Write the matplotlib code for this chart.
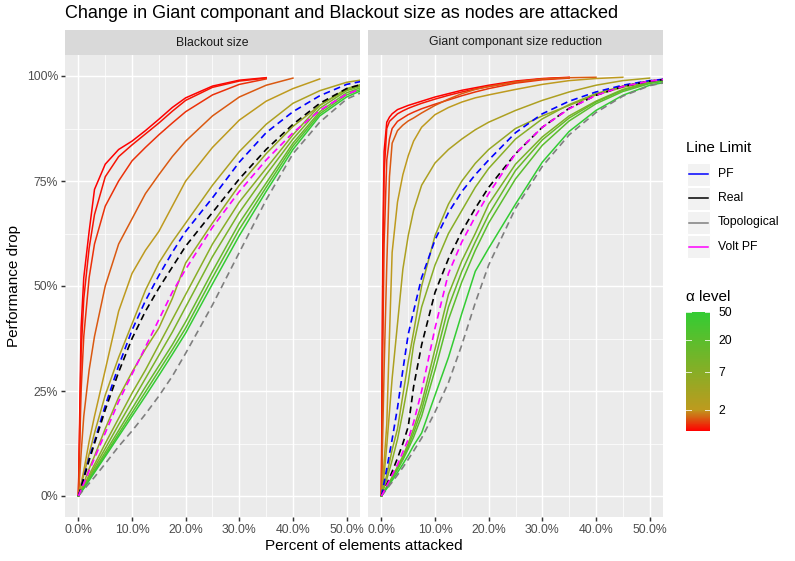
import numpy as np
import matplotlib
matplotlib.use("Agg")
import matplotlib.pyplot as plt
from matplotlib.colors import LinearSegmentedColormap, LogNorm
from matplotlib.patches import Rectangle
from matplotlib.lines import Line2D
from matplotlib.cm import ScalarMappable
from matplotlib.ticker import NullLocator

plt.rcParams['font.family'] = ['Liberation Sans', 'DejaVu Sans']

title = "Change in Giant componant and Blackout size as nodes are attacked"
strip_names = ["Blackout size", "Giant componant size reduction"]
alpha_levels = [1, 1.1, 1.25, 1.5, 2, 3, 5, 7, 10, 15, 20, 50]
alpha_ticks = [2, 7, 20, 50]
limit_names = ["PF", "Real", "Topological", "Volt PF"]
limit_colors = ["#0000FF", "#000000", "#7F7F7F", "#FF00FF"]

# percent of elements attacked (x grids), curves are cut where they stop
blk_x = [0, 0.5, 1, 2, 3, 5, 7.5, 10, 12.5, 15, 17.5, 20, 25, 30, 35, 40, 45, 50, 55]
gc_x = [0, 0.25, 0.5, 1, 1.5, 2, 3, 4, 5, 6, 7.5, 10, 12.5, 15, 17.5, 20, 25, 30, 35, 40, 45, 50, 55]

# Blackout size, one curve per alpha level
blk_1 = [0, 40, 52, 63, 73, 79, 82.5, 84.5, 87, 89.7, 92.5, 94.8, 97.6, 99, 99.6]
blk_1_1 = [0, 34, 47, 59, 67, 76, 80.8, 83.6, 86.2, 88.8, 91.6, 94.2, 97.3, 98.8, 99.5]
blk_1_25 = [0, 25, 38, 52, 60, 69, 75, 79.8, 83, 86, 88.8, 91.5, 95.5, 98, 99.3]
blk_1_5 = [0, 10, 19, 30, 38, 50, 60, 66, 72, 76.5, 80.8, 84.5, 90.5, 95, 97.8, 99.5]
blk_2 = [0, 3, 6, 13, 19, 30, 44, 53, 58.5, 63, 69, 75, 83, 89.5, 94, 97, 99.3]
blk_3 = [0, 2.5, 5, 10, 15, 24, 33, 41, 49, 55.5, 60.5, 65, 74, 82, 88.5, 93.5, 96.5, 98.5, 99.5]
blk_5 = [0, 1.5, 3, 6.5, 9.5, 16, 23.5, 29.5, 35, 40, 47, 55.5, 65, 74, 81.5, 88, 93, 96.8, 98.7]
blk_7 = [0, 1.2, 2.4, 5, 7.5, 12.5, 18.5, 24.5, 30, 36, 42, 48, 60, 70, 78, 86, 93, 97, 98.8]
blk_10 = [0, 1.1, 2.2, 4.5, 6.8, 11.3, 17, 22.5, 28, 33.5, 39, 45, 57, 67.5, 76.5, 85, 92.3, 96.5, 98.5]
blk_15 = [0, 1, 2, 4.1, 6.2, 10.4, 15.6, 20.8, 26, 31, 36, 41.5, 53.5, 65, 74.5, 84, 91.5, 96, 98.3]
blk_20 = [0, 1, 1.9, 3.9, 5.9, 9.8, 14.8, 19.8, 24.8, 29.8, 34.8, 40, 52, 63.5, 73.5, 83.3, 91, 95.5, 98]
blk_50 = [0, 0.9, 1.8, 3.7, 5.6, 9.4, 14.2, 19, 23.8, 28.7, 33.7, 38.8, 50.5, 62, 72.5, 82.5, 90.5, 95, 97.8]
# Blackout size, line limit types
blk_pf = [0, 2, 4.5, 9, 13, 21.5, 31, 39.5, 46.5, 52.5, 58, 63, 71, 79.5, 86.5, 91.5, 95.3, 98, 99.3]
blk_real = [0, 2, 4.2, 8.5, 12.5, 20.5, 29.5, 37.5, 44, 49.5, 54.5, 59.5, 67.5, 75.5, 82.5, 88.5, 93.5, 97, 98.8]
blk_topo = [0, 0.8, 1.5, 3, 4.5, 7.7, 11.8, 15.5, 19.5, 23.8, 28.5, 34, 45.5, 58, 70.5, 81.5, 89, 94.5, 97.3]
blk_volt = [0, 1.5, 3, 6, 9, 15, 22.5, 29, 35.5, 42, 48.5, 54, 64, 72.5, 80, 86.5, 91.8, 95.7, 98]

# Giant componant size reduction, one curve per alpha level
gc_1 = [0, 58, 82, 89, 90.2, 91, 92, 92.5, 93, 93.4, 94, 95, 95.8, 96.6, 97.2, 97.8, 98.8, 99.4, 99.7]
gc_1_1 = [0, 50, 77, 87.5, 89.2, 89.8, 91, 91.7, 92.3, 92.8, 93.5, 94.5, 95.4, 96.2, 96.9, 97.5, 98.6, 99.3, 99.6]
gc_1_25 = [0, 35, 60, 80, 85, 87.5, 89.2, 90, 90.8, 91.4, 92.2, 93.3, 94.3, 95.3, 96.2, 97, 98.3, 99.1, 99.5]
gc_1_5 = [0, 15, 30, 55, 76, 84, 87, 88.3, 89.3, 90, 91.2, 93, 94.5, 95.8, 96.8, 97.5, 98.6, 99.3, 99.6, 99.7]
gc_2 = [0, 4, 8, 17, 38, 58, 70, 76.5, 81, 84.5, 87.8, 90.8, 92.5, 93.8, 94.8, 95.5, 96.8, 98, 98.9, 99.4, 99.7]
gc_3 = [0, 2.5, 5, 12, 20, 28, 41, 54, 62, 68, 74, 79.3, 82.5, 85, 87.2, 89, 91.8, 94.2, 96.2, 97.8, 98.9, 99.5]
gc_5 = [0, 1.2, 2.5, 5, 8, 11, 16, 24, 32, 39, 50, 62, 69.5, 75, 79.2, 82.5, 87.5, 90.5, 93, 95.5, 97.3, 98.6, 99.4]
gc_7 = [0, 1, 2, 4, 6.2, 8.5, 13.5, 20, 27, 36, 45, 55, 62.5, 68, 73.5, 78, 85, 89.8, 93.2, 95.8, 97.6, 98.8, 99.5]
gc_10 = [0, 0.55, 1.1, 2.2, 3.3, 4.5, 7, 9.5, 12.5, 16, 22, 35, 48, 56, 62.5, 69.5, 79, 85.5, 90.5, 94, 96.8, 98.5, 99.4]
gc_15 = [0, 0.5, 1.05, 2.1, 3.2, 4.3, 6.7, 9, 11.8, 15, 20.5, 32.5, 45, 53.5, 60.5, 67, 77.5, 84.8, 90, 93.8, 96.6, 98.4, 99.3]
gc_20 = [0, 0.5, 1, 2, 3, 4.1, 6.3, 8.6, 11.2, 14, 19, 30, 42, 51, 58.5, 65, 75.5, 83.5, 89.3, 93.4, 96.3, 98.2, 99.3]
gc_50 = [0, 0.45, 0.9, 1.8, 2.7, 3.7, 5.6, 7.6, 9.7, 12, 15, 24, 33, 43.5, 53.5, 59, 69.5, 79.5, 86.8, 91.8, 95.4, 97.8, 99]
# Giant componant size reduction, line limit types
gc_pf = [0, 1.6, 3.2, 6.5, 10, 13.5, 21, 30, 38.5, 44, 52, 61, 67.5, 72.5, 76.5, 80, 86.5, 91, 94, 96.2, 97.8, 98.9, 99.5]
gc_real = [0, 0.7, 1.4, 2.8, 4.3, 5.8, 9, 12.5, 16.5, 26, 36, 48.5, 56.5, 63, 68.5, 73.5, 81.5, 87.8, 92.3, 95.4, 97.5, 98.8, 99.5]
gc_topo = [0, 0.4, 0.8, 1.6, 2.5, 3.3, 5, 6.8, 8.7, 10.7, 13.8, 20, 27, 36, 46, 55, 68.5, 78.5, 86, 91.3, 95.2, 97.7, 99]
gc_volt = [0, 0.6, 1.2, 2.5, 3.7, 5, 7.5, 10.5, 13.5, 17.5, 25, 40, 53, 60.5, 66.5, 72, 81.5, 87.8, 92.2, 95.4, 97.5, 98.8, 99.5]

blk_alpha = [blk_1, blk_1_1, blk_1_25, blk_1_5, blk_2, blk_3, blk_5, blk_7, blk_10, blk_15, blk_20, blk_50]
blk_limit = [blk_pf, blk_real, blk_topo, blk_volt]
gc_alpha = [gc_1, gc_1_1, gc_1_25, gc_1_5, gc_2, gc_3, gc_5, gc_7, gc_10, gc_15, gc_20, gc_50]
gc_limit = [gc_pf, gc_real, gc_topo, gc_volt]

W, H = 795, 561


def box(x0, y0, x1, y1):
    # pixel box (top-left origin) -> figure fraction rect
    return [x0 / W, 1 - y1 / H, (x1 - x0) / W, (y1 - y0) / H]


cmap = LinearSegmentedColormap.from_list(
    "alpha", [(0, "#FF0000"), (0.177, "#BE9A1E"), (1, "#33CC33")])
norm = LogNorm(1, 50)

fig = plt.figure(figsize=(W / 100, H / 100), dpi=100)

panels = [(65, blk_x, blk_alpha, blk_limit), (368, gc_x, gc_alpha, gc_limit)]
for i, (x0, xs, solid, dashed) in enumerate(panels):
    ax = fig.add_axes(box(x0, 55, x0 + 295, 517))
    ax.set_facecolor("#EBEBEB")
    for a, ys in zip(alpha_levels, solid):
        ax.plot(xs[:len(ys)], ys, color=cmap(norm(a)), lw=1.1)
    for c, ys in zip(limit_colors, dashed):
        ax.plot(xs[:len(ys)], ys, color=c, lw=1.2, dashes=(4, 2.6))
    ax.set_xlim(-2.5, 52.5)
    ax.set_ylim(-5, 105)
    ax.set_xticks(range(0, 51, 10))
    ax.set_xticklabels([f"{v:.1f}%" for v in range(0, 51, 10)])
    ax.set_xticks(range(5, 50, 10), minor=True)
    ax.set_yticks([0, 25, 50, 75, 100])
    ax.set_yticklabels(["0%", "25%", "50%", "75%", "100%"])
    ax.set_yticks([12.5, 37.5, 62.5, 87.5], minor=True)
    ax.grid(which="major", color="white", lw=1.07)
    ax.grid(which="minor", color="white", lw=0.53)
    ax.set_axisbelow(True)
    for s in ax.spines.values():
        s.set_visible(False)
    ax.tick_params(which="major", length=2.75, width=1.07, color="#333333",
                   labelsize=8.8, labelcolor="#4D4D4D", pad=2.2)
    ax.tick_params(which="minor", length=0)
    if i == 1:
        ax.tick_params(axis="y", left=False, labelleft=False)

    sax = fig.add_axes(box(x0, 30, x0 + 295, 55))
    sax.set_facecolor("#D9D9D9")
    sax.set_xticks([])
    sax.set_yticks([])
    for s in sax.spines.values():
        s.set_visible(False)
    sax.text(0.5, 0.5, strip_names[i], ha="center", va="center",
             fontsize=8.8, color="#1A1A1A", transform=sax.transAxes)

fig.text(65 / W, 1 - 13 / H, title, fontsize=13, ha="left", va="center")
fig.text(364 / W, 1 - 546 / H, "Percent of elements attacked", fontsize=11,
         ha="center", va="center")
fig.text(14 / W, 1 - 286 / H, "Performance drop", fontsize=11, rotation=90,
         ha="center", va="center")

# line limit legend
fig.text(686 / W, 1 - 148 / H, "Line Limit", fontsize=11, ha="left", va="center")
for k, (name, c) in enumerate(zip(limit_names, limit_colors)):
    yc = 174.3 + 24.1 * k
    fig.patches.append(Rectangle((686.5 / W, 1 - (yc + 11.5) / H), 23 / W, 23 / H,
                                 transform=fig.transFigure, facecolor="#F2F2F2",
                                 edgecolor="white", lw=0.8))
    fig.lines.append(Line2D([688.5 / W, 707.5 / W], [1 - yc / H, 1 - yc / H],
                            transform=fig.transFigure, color=c, lw=1.1))
    fig.text(718 / W, 1 - yc / H, name, fontsize=8.8, ha="left", va="center")

# alpha colourbar
fig.text(686 / W, 1 - 297 / H, "\u03b1 level", fontsize=11, ha="left", va="center")
cax = fig.add_axes(box(686, 312, 710, 431))
cb = fig.colorbar(ScalarMappable(norm=norm, cmap=cmap), cax=cax)
cb.outline.set_visible(False)
cax.yaxis.set_minor_locator(NullLocator())
cb.set_ticks(alpha_ticks)
cb.set_ticklabels([str(t) for t in alpha_ticks])
cax.tick_params(length=0, labelsize=8.8, pad=5.8)
tr = cax.get_yaxis_transform()
for t in alpha_ticks:
    cax.plot([0, 0.2], [t, t], color="white", lw=0.7, alpha=0.8, transform=tr)
    cax.plot([0.8, 1], [t, t], color="white", lw=0.7, alpha=0.8, transform=tr)

fig.savefig("out.png", dpi=100)
